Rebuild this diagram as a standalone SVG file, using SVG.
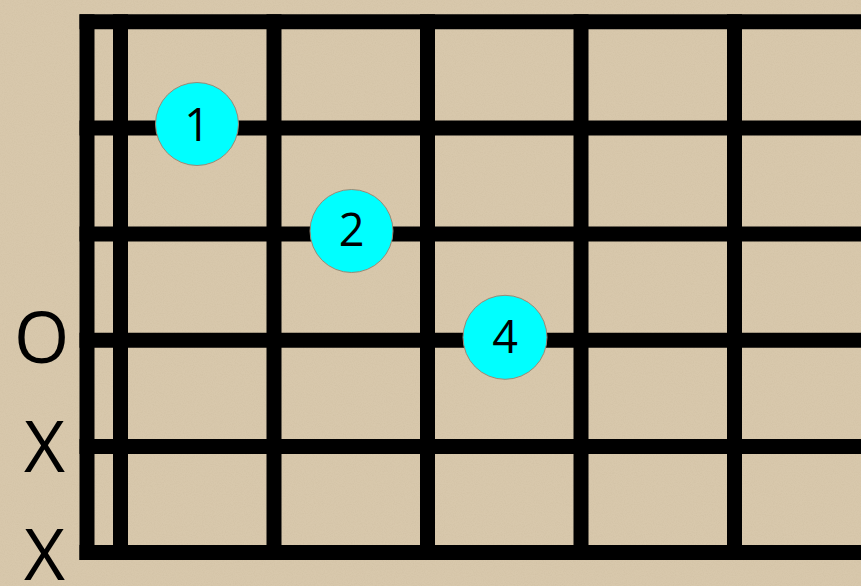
<svg xmlns="http://www.w3.org/2000/svg" width="861" height="586" viewBox="0 0 861 586">
  <defs>
    <filter id="paper" x="0" y="0" width="100%" height="100%">
      <feTurbulence type="fractalNoise" baseFrequency="0.9" numOctaves="2" seed="3" result="n"/>
      <feColorMatrix in="n" type="matrix" values="0 0 0 0 0.55  0 0 0 0 0.45  0 0 0 0 0.3  0 0 0 -1.2 0.75"/>
    </filter>
    <style>
      .bar { stroke: #000; stroke-width: 15; fill: none; }
      .dot { fill: #00ffff; stroke: #9a8a76; stroke-width: 1; }
      .num { font-family: "Open Sans", "Noto Sans", sans-serif; font-size: 45px; fill: #000; text-anchor: middle; }
      .lbl { font-family: "Open Sans", "Noto Sans", sans-serif; font-size: 71px; fill: #000; text-anchor: middle; }
    </style>
  </defs>
  <rect width="861" height="586" fill="#d8c8ac"/>
  <rect width="861" height="586" filter="url(#paper)" opacity="0.35"/>
  <g id="connectors">
    <g id="strings">
      <line class="bar" x1="79.5" y1="21.7" x2="861" y2="21.7"/>
      <line class="bar" x1="79.5" y1="127.9" x2="861" y2="127.9"/>
      <line class="bar" x1="79.5" y1="234.1" x2="861" y2="234.1"/>
      <line class="bar" x1="79.5" y1="340.3" x2="861" y2="340.3"/>
      <line class="bar" x1="79.5" y1="446.5" x2="861" y2="446.5"/>
      <line class="bar" x1="79.5" y1="552.5" x2="861" y2="552.5"/>
    </g>
    <g id="frets">
      <line class="bar" x1="87" y1="14.2" x2="87" y2="560"/>
      <line class="bar" x1="120.5" y1="14.2" x2="120.5" y2="560"/>
      <line class="bar" x1="274" y1="14.2" x2="274" y2="560"/>
      <line class="bar" x1="427.5" y1="14.2" x2="427.5" y2="560"/>
      <line class="bar" x1="581" y1="14.2" x2="581" y2="560"/>
      <line class="bar" x1="734.5" y1="14.2" x2="734.5" y2="560"/>
    </g>
  </g>
  <g id="finger-1">
    <circle class="dot" cx="197" cy="124" r="41.5"/>
    <text class="num" x="197" y="141">1</text>
  </g>
  <g id="finger-2">
    <circle class="dot" cx="351.5" cy="231" r="41.5"/>
    <text class="num" x="351.5" y="245.5">2</text>
  </g>
  <g id="finger-4">
    <circle class="dot" cx="505" cy="337.3" r="42"/>
    <text class="num" x="505" y="352.5">4</text>
  </g>
  <g id="label-open">
    <text class="lbl" x="41.5" y="363">O</text>
  </g>
  <g id="label-mute-5">
    <text class="lbl" x="44.5" y="472">X</text>
  </g>
  <g id="label-mute-6">
    <text class="lbl" x="44.5" y="580">X</text>
  </g>
</svg>
